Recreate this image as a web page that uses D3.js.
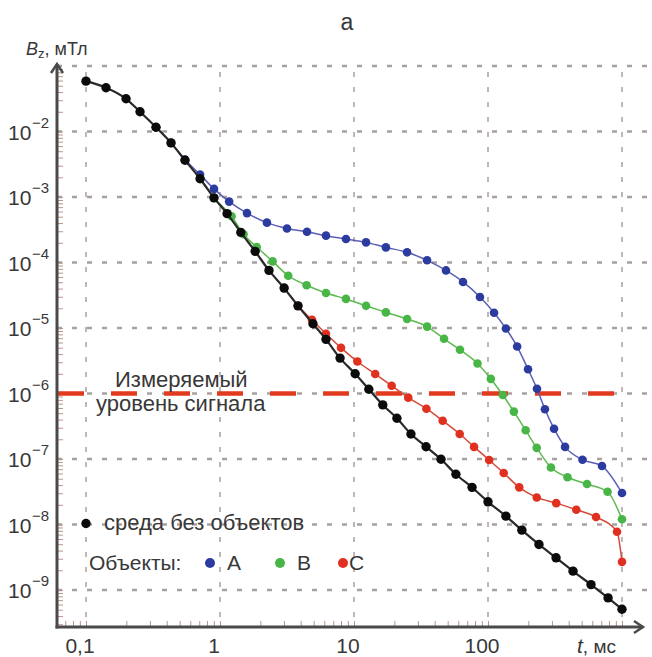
<!DOCTYPE html>
<html>
<head>
<meta charset="utf-8">
<script src="https://cdn.jsdelivr.net/npm/d3@7"></script>
<style>
  html, body { margin: 0; padding: 0; background: #fff; }
  svg { display: block; font-family: 'Liberation Sans', Arial, sans-serif; }
</style>
</head>
<body>
<div class="artboard"></div>
<script>
// t in ms, Bz in mT
var tBlack = [0.1, 0.141, 0.199, 0.253, 0.333, 0.431, 0.548, 0.71, 0.902, 1.13, 1.43, 1.83, 2.32, 3.01, 3.82, 4.94, 6.18, 7.87,
  10.2, 12.9, 16.4, 20.9, 26.6, 34.5, 44.6, 57.6, 76, 100, 136, 179, 240, 322, 431, 587, 787, 1000];
var bBlack = [5.87e-2, 4.66e-2, 3.16e-2, 2.0e-2, 1.16e-2, 6.7e-3, 3.64e-3, 1.9e-3, 9.7e-4, 5.57e-4, 2.88e-4, 1.48e-4, 7.57e-5,
  4.07e-5, 2.18e-5, 1.16e-5, 6.71e-6, 3.47e-6, 2.0e-6, 1.16e-6, 6.7e-7, 4.19e-7, 2.41e-7, 1.54e-7, 9.9e-8, 5.85e-8, 3.69e-8,
  2.22e-8, 1.34e-8, 8.2e-9, 4.96e-9, 3.1e-9, 1.94e-9, 1.21e-9, 7.57e-10, 5.08e-10];

var tA = [0.333, 0.431, 0.548, 0.71, 0.902, 1.17, 1.59, 2.24, 3.16, 4.46, 6.18, 8.71, 12.3, 17.3, 24.9, 35.1, 48.6, 65.1, 87.1,
  111, 136, 165, 199, 232, 266, 311, 376, 507, 709, 1000];
var bA = [1.16e-2, 6.7e-3, 3.73e-3, 2.2e-3, 1.33e-3, 8.5e-4, 5.68e-4, 4.06e-4, 3.31e-4, 2.94e-4, 2.57e-4, 2.29e-4, 2.03e-4,
  1.7e-4, 1.43e-4, 1.08e-4, 7.57e-5, 5.05e-5, 2.97e-5, 1.71e-5, 9.8e-6, 5.21e-6, 2.35e-6, 1.18e-6, 5.75e-7, 2.9e-7, 1.53e-7,
  9.75e-8, 7.81e-8, 3.02e-8];

var tB = [0.71, 0.902, 1.22, 1.5, 1.88, 2.47, 3.23, 4.43, 6.18, 8.71, 12.3, 17.3, 24.9, 35.1, 47, 61.8, 83.5, 105, 129, 156,
  191, 231, 295, 392, 548, 780, 1000];
var bB = [1.9e-3, 9.7e-4, 5.07e-4, 2.7e-4, 1.72e-4, 1.04e-4, 6.28e-5, 4.5e-5, 3.42e-5, 2.78e-5, 2.18e-5, 1.73e-5, 1.37e-5,
  1.05e-5, 6.84e-6, 4.65e-6, 2.87e-6, 1.67e-6, 9.5e-7, 5.29e-7, 2.75e-7, 1.48e-7, 7.41e-8, 5.27e-8, 4.15e-8, 3.16e-8, 1.2e-8];

var tC = [3.01, 3.82, 4.86, 6.18, 8.0, 10.6, 14.4, 19.1, 25.4, 34.7, 45.9, 61.5, 78.7, 102, 131, 171, 231, 323, 456, 640, 918, 1000];
var bC = [4.07e-5, 2.18e-5, 1.33e-5, 8.15e-6, 4.98e-6, 3.08e-6, 1.98e-6, 1.31e-6, 8.65e-7, 5.86e-7, 3.84e-7, 2.41e-7, 1.53e-7,
  9.66e-8, 6.11e-8, 3.69e-8, 2.59e-8, 2.12e-8, 1.68e-8, 1.3e-8, 7.73e-9, 2.69e-9];

var xTicks = [0.1, 1, 10, 100, 1000];
var xTickLabels = ['0,1', '1', '10', '100'];
var yExps = [-1, -2, -3, -4, -5, -6, -7, -8, -9];
var levelValue = 1e-6;
var levelLabel = ['Измеряемый', 'уровень сигнала'];
var legendNone = 'среда без объектов';
var legendObjects = ['A', 'B', 'C'];

var zip = function(ts, bs) {
  return ts.map(function(t, i) { return { t: t, v: bs[i] }; });
};

var series = [
  { name: 'A', data: zip(tA, bA), line: '#5a5fb6', dot: '#2c3c9e', w: 1.5, r: 4.3 },
  { name: 'B', data: zip(tB, bB), line: '#5dba4e', dot: '#48b646', w: 1.5, r: 4.3 },
  { name: 'C', data: zip(tC, bC), line: '#d6493a', dot: '#e0301f', w: 1.5, r: 4.3 },
  { name: 'none', data: zip(tBlack, bBlack), line: '#2a2a2a', dot: '#0b0b0b', w: 2.2, r: 4.7 }
];

var W = 652, H = 657;
var axisLeftX = 57, axisBottomY = 627;
var textColor = '#383838';

var x = d3.scaleLog().domain([0.1, 1000]).range([86, 622]);
var y = d3.scaleLog().domain([1e-9, 1e-1]).range([590, 66]);

var svg = d3.select('.artboard').append('svg')
  .attr('width', W).attr('height', H);

// grid
svg.append('g').selectAll('line')
  .data(yExps)
  .join('line')
  .attr('x1', axisLeftX).attr('x2', W)
  .attr('y1', function(d) { return y(Math.pow(10, d)); })
  .attr('y2', function(d) { return y(Math.pow(10, d)); })
  .attr('stroke', '#a8a19d').attr('stroke-width', 2.4)
  .attr('stroke-dasharray', '5,10');

svg.append('g').selectAll('line')
  .data(xTicks)
  .join('line')
  .attr('x1', function(d) { return x(d); }).attr('x2', function(d) { return x(d); })
  .attr('y1', y(1e-1) + 6).attr('y2', axisBottomY)
  .attr('stroke', '#a8a19d').attr('stroke-width', 1.5)
  .attr('stroke-dasharray', '5,10');

// minor ticks
var yMinor = [];
for (var e = -10; e <= -1; e++) {
  for (var m = 1; m <= 9; m++) {
    var v = m * Math.pow(10, e);
    if (y(v) < axisBottomY - 2 && y(v) > 68) yMinor.push(v);
  }
}
var xMinor = [];
for (var e2 = -2; e2 <= 3; e2++) {
  for (var m2 = 1; m2 <= 9; m2++) {
    var v2 = m2 * Math.pow(10, e2);
    if (x(v2) > axisLeftX + 2 && x(v2) < 630) xMinor.push(v2);
  }
}

svg.append('g')
  .attr('class', 'minor-y')
  .attr('transform', 'translate(' + (axisLeftX + 1) + ',0)')
  .call(d3.axisRight(y).tickValues(yMinor).tickFormat('').tickSizeInner(5).tickSizeOuter(0))
  .call(function(g) { g.select('.domain').remove(); })
  .selectAll('line').attr('stroke', '#b8958a').attr('stroke-width', 1);

svg.append('g')
  .attr('class', 'minor-x')
  .attr('transform', 'translate(0,' + (axisBottomY - 1) + ')')
  .call(d3.axisTop(x).tickValues(xMinor).tickFormat('').tickSizeInner(5).tickSizeOuter(0))
  .call(function(g) { g.select('.domain').remove(); })
  .selectAll('line').attr('stroke', '#b8958a').attr('stroke-width', 1);

// measurable level
svg.append('line')
  .attr('x1', axisLeftX + 1).attr('x2', x(1000))
  .attr('y1', y(levelValue)).attr('y2', y(levelValue))
  .attr('stroke', '#e23a1e').attr('stroke-width', 4.5)
  .attr('stroke-dasharray', '26,27');

svg.append('text')
  .attr('x', 115).attr('y', y(levelValue) - 7)
  .attr('font-size', 22).attr('fill', textColor)
  .text(levelLabel[0]);
svg.append('text')
  .attr('x', 96).attr('y', y(levelValue) + 17)
  .attr('font-size', 22).attr('fill', textColor)
  .text(levelLabel[1]);

// axes
var axisColor = '#4a4a4a';
svg.append('line')
  .attr('x1', axisLeftX).attr('x2', axisLeftX)
  .attr('y1', axisBottomY + 1.5).attr('y2', 64)
  .attr('stroke', axisColor).attr('stroke-width', 3);
svg.append('path')
  .attr('d', 'M' + (axisLeftX - 6) + ',' + 73 + 'L' + axisLeftX + ',' + 64 + 'L' + (axisLeftX + 6) + ',' + 73)
  .attr('fill', 'none').attr('stroke', axisColor).attr('stroke-width', 2.5);
svg.append('line')
  .attr('x1', axisLeftX - 1.5).attr('x2', 643)
  .attr('y1', axisBottomY).attr('y2', axisBottomY)
  .attr('stroke', axisColor).attr('stroke-width', 3);
svg.append('path')
  .attr('d', 'M' + 634 + ',' + (axisBottomY - 6) + 'L' + 643 + ',' + axisBottomY + 'L' + 634 + ',' + (axisBottomY + 6))
  .attr('fill', 'none').attr('stroke', axisColor).attr('stroke-width', 2.5);

// y tick labels
var yLab = svg.append('g').attr('fill', textColor);
yExps.filter(function(d) { return d <= -2; }).forEach(function(d) {
  var yy = y(Math.pow(10, d));
  yLab.append('text').attr('x', 8).attr('y', yy + 8).attr('font-size', 21).text('10');
  yLab.append('text').attr('x', 32).attr('y', yy - 4).attr('font-size', 15).text('\u2212' + (-d));
});

// x tick labels
svg.append('g').selectAll('text')
  .data(xTickLabels)
  .join('text')
  .attr('x', function(d, i) { return x(xTicks[i]) - 6; })
  .attr('y', 653)
  .attr('text-anchor', 'middle')
  .attr('font-size', 21).attr('fill', textColor)
  .text(function(d) { return d; });

var tLab = svg.append('text').attr('x', 577).attr('y', 653).attr('fill', textColor).attr('font-size', 21);
tLab.append('tspan').attr('font-style', 'italic').text('t');
tLab.append('tspan').attr('font-size', 19).text(', мс');

var bLab = svg.append('text').attr('x', 26).attr('y', 55).attr('fill', textColor).attr('font-size', 18);
bLab.append('tspan').attr('font-style', 'italic').text('B');
bLab.append('tspan').attr('font-size', 13).attr('dy', 3).text('z');
bLab.append('tspan').attr('dy', -3).text(', мТл');

svg.append('text')
  .attr('x', 347).attr('y', 30)
  .attr('text-anchor', 'middle')
  .attr('font-size', 23).attr('fill', textColor)
  .text('а');

// curves
var line = d3.line()
  .x(function(d) { return x(d.t); })
  .y(function(d) { return y(d.v); })
  .curve(d3.curveMonotoneX);

series.forEach(function(s) {
  svg.append('path')
    .datum(s.data)
    .attr('fill', 'none')
    .attr('stroke', s.line)
    .attr('stroke-width', s.w)
    .attr('d', line);

  svg.append('g').selectAll('circle')
    .data(s.data)
    .join('circle')
    .attr('cx', function(d) { return x(d.t); })
    .attr('cy', function(d) { return y(d.v); })
    .attr('r', s.r)
    .attr('fill', s.dot);
});

// legend
var legY1 = y(1e-8) - 1;
svg.append('circle').attr('cx', 86).attr('cy', legY1).attr('r', 4.7).attr('fill', '#0b0b0b');
svg.append('text').attr('x', 104).attr('y', legY1 + 6).attr('font-size', 22).attr('fill', textColor).text(legendNone);

var legY2 = 563;
svg.append('text').attr('x', 89).attr('y', legY2 + 7).attr('font-size', 21).attr('fill', textColor).text('Объекты:');
var legX = [210, 280, 343];
legendObjects.forEach(function(name, i) {
  svg.append('circle').attr('cx', legX[i]).attr('cy', legY2).attr('r', 5).attr('fill', series[i].dot);
  svg.append('text').attr('x', legX[i] + (i === 2 ? 6 : 17)).attr('y', legY2 + 7)
    .attr('font-size', 21).attr('fill', textColor).text(name);
});
</script>
</body>
</html>
